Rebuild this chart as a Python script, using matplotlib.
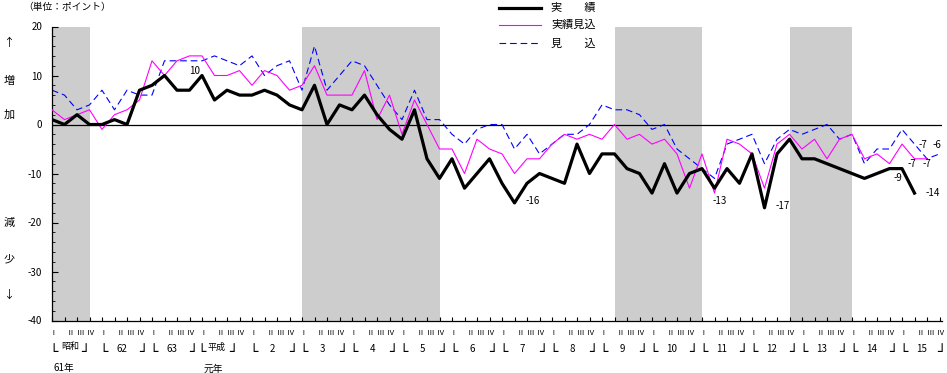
import matplotlib
matplotlib.use('Agg')
import matplotlib.pyplot as plt
from matplotlib.lines import Line2D
from matplotlib.ticker import MultipleLocator
from matplotlib.transforms import blended_transform_factory

plt.rcParams['font.family'] = ['Noto Sans CJK JP', 'DejaVu Sans']
plt.rcParams['axes.unicode_minus'] = False

# 四半期ごとの値（昭和61年Ⅰ期 = 0）
jisseki = [1, 0, 2, 0, 0, 1, 0, 7, 8, 10, 7, 7, 10, 5, 7, 6, 6, 7, 6, 4, 3, 8, 0, 4,
           3, 6, 2, -1, -3, 3, -7, -11, -7, -13, -10, -7, -12, -16, -12, -10, -11, -12, -4, -10, -6, -6, -9, -10,
           -14, -8, -14, -10, -9, -13, -9, -12, -6, -17, -6, -3, -7, -7, -8, -9, -10, -11, -10, -9, -9, -14]
jisseki_mikomi = [3, 1, 2, 3, -1, 2, 3, 5, 13, 10, 13, 14, 14, 10, 10, 11, 8, 11, 10, 7, 8, 12, 6, 6,
                  6, 11, 1, 6, -2, 5, 0, -5, -5, -10, -3, -5, -6, -10, -7, -7, -4, -2, -3, -2, -3, 0, -3, -2,
                  -4, -3, -6, -13, -6, -14, -3, -4, -6, -13, -4, -2, -5, -3, -7, -3, -2, -7, -6, -8, -4, -7, -7]
mikomi = [7, 6, 3, 4, 7, 3, 7, 6, 6, 13, 13, 13, 13, 14, 13, 12, 14, 10, 12, 13, 7, 16, 7, 10,
          13, 12, 8, 4, 1, 7, 1, 1, -2, -4, -1, 0, 0, -5, -2, -6, -4, -2, -2, 0, 4, 3, 3, 2,
          -1, 0, -5, -7, -9, -11, -4, -3, -2, -8, -3, -1, -2, -1, 0, -3, -2, -8, -5, -5, -1, -4, -7, -6]

# 景気後退期（四半期インデックス）
koutai = [(0, 3), (20, 31), (45, 52), (59, 64)]

years = ['昭和', '62', '63', '平成', '2', '3', '4', '5', '6', '7', '8', '9',
         '10', '11', '12', '13', '14', '15']
year_sub = {0: '61年', 3: '元年'}
quarters = ['Ⅰ', 'Ⅱ', 'Ⅲ', 'Ⅳ']

W, H = 947, 373
PX = 12.5  # 1四半期あたりのピクセル


def fy(p):
    return 1 - p / H


fig = plt.figure(figsize=(W / 100, H / 100), dpi=100)
ax = fig.add_axes([52 / W, fy(320.5), 890 / W, 294 / H])

for s, e in koutai:
    ax.axvspan(s, e, color='#cdcdcd', lw=0, zorder=0)

ax.axhline(0, color='black', lw=0.9, zorder=1)
ax.plot(range(len(mikomi)), mikomi, color='#0000ff', lw=0.8, ls=(0, (6, 3.5)), zorder=2)
ax.plot(range(len(jisseki_mikomi)), jisseki_mikomi, color='#ff00ff', lw=0.8, zorder=3)
ax.plot(range(len(jisseki)), jisseki, color='black', lw=2.3, zorder=4)

ax.set_xlim(0, 71.2)
ax.set_ylim(-40, 20)
ax.set_yticks(range(-40, 21, 10))
ax.yaxis.set_minor_locator(MultipleLocator(2))
ax.set_xticks(range(72))
ax.set_xticklabels([])
ax.tick_params(axis='y', which='major', direction='in', length=4, labelsize=7, pad=7)
ax.tick_params(axis='y', which='minor', direction='in', length=2)
ax.tick_params(axis='x', direction='in', length=3)
for sp in ['top', 'right']:
    ax.spines[sp].set_visible(False)
ax.spines['left'].set_linewidth(0.9)
ax.spines['bottom'].set_linewidth(0.9)


# 数値ラベル
def label(series, i, dx, dy):
    ax.annotate(str(series[i]), xy=(i, series[i]), xytext=(dx, dy),
                textcoords='offset pixels', ha='center', va='center', fontsize=7, zorder=5)


label(jisseki, 12, -7, 5)
label(jisseki, 37, 18.5, 2)
label(jisseki, 53, 5.5, -12.5)
label(jisseki, 57, 18.5, 2)
label(jisseki, 68, -4, -9)
label(jisseki, 69, 18.5, 0)
label(jisseki_mikomi, 69, -3, -5.5)
label(jisseki_mikomi, 70, 0, -5.5)
label(mikomi, 70, -4, 14)
label(mikomi, 71, -3, 9)

# 横軸ラベル
tr = blended_transform_factory(ax.transData, fig.transFigure)
q_off = [1.5, 18.5, 28.5, 38.5]
br = dict(transform=tr, ha='center', va='center', fontsize=10, family='DejaVu Sans')
BY = fy(352.5)
for k, name in enumerate(years):
    x0 = 4 * k
    for q, off in zip(quarters, q_off):
        ax.text(x0 + off / PX, fy(333), q, transform=tr, ha='center', va='center', fontsize=5.5)
    if k in year_sub:
        left, right = (1.5, 33) if k == 0 else (0, 31)
        ctr = 18 if k == 0 else 14
        ax.text(x0 + left / PX, BY, '└', **br)
        ax.text(x0 + right / PX, BY, '┘', **br)
        ax.text(x0 + ctr / PX, fy(347), name, transform=tr, ha='center', va='center', fontsize=6.5)
        ax.text(x0 + 11.5 / PX, fy(368.5), year_sub[k], transform=tr, ha='center', va='center', fontsize=7)
    else:
        ax.text(x0 + 1.5 / PX, BY, '└', **br)
        r = 39.5 if k == len(years) - 1 else 41
        ax.text(x0 + r / PX, BY, '┘', **br)
        ax.text(x0 + 20 / PX, fy(349), name, transform=tr, ha='center', va='center', fontsize=7)

# 左側の表示
fig.text(67 / W, fy(7), '（単位：ポイント）', ha='center', va='center', fontsize=7)
for t, yy in [('↑', 43), ('増', 81), ('加', 115), ('減', 223), ('少', 259), ('↓', 295)]:
    fig.text(9 / W, fy(yy), t, ha='center', va='center', fontsize=8)

# 凡例
leg = [('実　　績', 'black', 2.3, '-', 8.3),
       ('実績見込', '#ff00ff', 0.8, '-', 25),
       ('見　　込', '#0000ff', 0.8, (0, (6, 3.5)), 43.3)]
for t, c, lw, ls, yy in leg:
    fig.add_artist(Line2D([499 / W, 541 / W], [fy(yy), fy(yy)], color=c, lw=lw, ls=ls))
    fig.text(551 / W, fy(yy), t, ha='left', va='center', fontsize=8)

fig.savefig('out.png', dpi=100)
